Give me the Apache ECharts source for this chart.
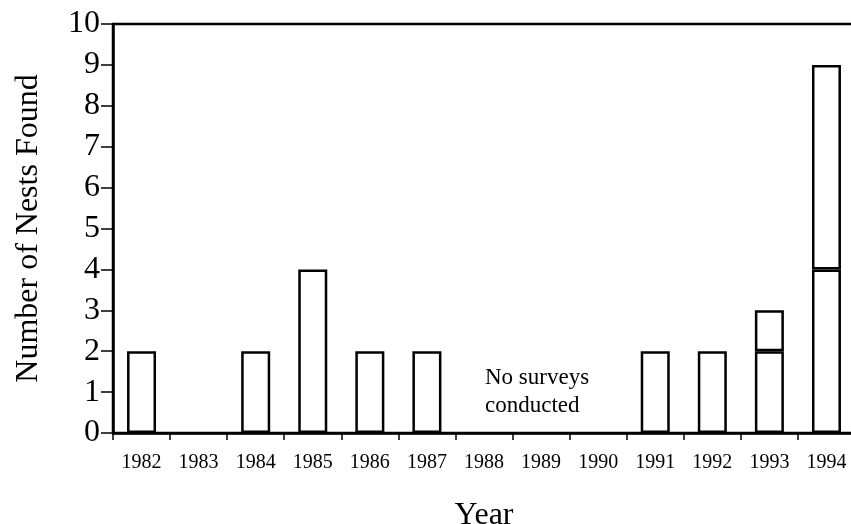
<!DOCTYPE html>
<html>
<head>
<meta charset="utf-8">
<script src="https://cdn.jsdelivr.net/npm/echarts@6/dist/echarts.min.js"></script>
<style>html,body{margin:0;padding:0;background:#fff}#c{width:851px;height:524px}</style>
</head>
<body>
<div id="c"></div>
<script>
var years = ['1982','1983','1984','1985','1986','1987','1988','1989','1990','1991','1992','1993','1994'];
var nestsLower = [2, null, 2, 4, 2, 2, null, null, null, 2, 2, 2, 4];
var nestsUpper = [null, null, null, null, null, null, null, null, null, null, null, 1, 5];
var yTicks = [0,1,2,3,4,5,6,7,8,9,10];
var noteText = 'No surveys\nconducted';

var FONT = '"Liberation Serif", "DejaVu Serif", serif';
var chart = echarts.init(document.getElementById('c'));
var barStyle = { color: '#fff', borderColor: '#000', borderWidth: 2.5 };
chart.setOption({
  animation: false,
  backgroundColor: '#fff',
  grid: { left: 113, top: 24, bottom: 91, width: 742, outerBoundsMode: 'none', containLabel: false,
          show: true, borderColor: '#000', borderWidth: 2.5, backgroundColor: 'transparent' },
  xAxis: {
    type: 'category', data: years,
    axisLine: { lineStyle: { color: '#000', width: 2.5 } },
    axisTick: { show: true, interval: 0, length: 7, lineStyle: { color: '#000', width: 1.5 } },
    axisLabel: { interval: 0, margin: 20, color: '#000', fontFamily: FONT, fontSize: 20 },
    name: 'Year', nameLocation: 'middle', nameGap: 67,
    nameTextStyle: { color: '#000', fontFamily: FONT, fontSize: 32 }
  },
  yAxis: {
    type: 'value', min: yTicks[0], max: yTicks[yTicks.length-1], interval: 1,
    axisLine: { show: true, lineStyle: { color: '#000', width: 2.5 } },
    axisTick: { show: true, length: 12, lineStyle: { color: '#000', width: 1.5 } },
    splitLine: { show: false },
    axisLabel: { margin: 13, color: '#000', fontFamily: FONT, fontSize: 32 },
    name: 'Number of Nests Found', nameLocation: 'middle', nameGap: 68, nameRotate: 90,
    nameTextStyle: { color: '#000', fontFamily: FONT, fontSize: 32 }
  },
  series: [
    { type: 'bar', stack: 'n', data: nestsLower, barWidth: 29, itemStyle: barStyle },
    { type: 'bar', stack: 'n', data: nestsUpper, barWidth: 29, itemStyle: barStyle }
  ]
});
var p = chart.convertToPixel({ xAxisIndex: 0, yAxisIndex: 0 }, ['1988', 1.7]);
chart.setOption({
  graphic: [{
    type: 'text', left: p[0] + 1, top: p[1],
    style: { text: noteText, fill: '#000', font: '23px ' + FONT, lineHeight: 28, textAlign: 'left' }
  }]
});
</script>
</body>
</html>
